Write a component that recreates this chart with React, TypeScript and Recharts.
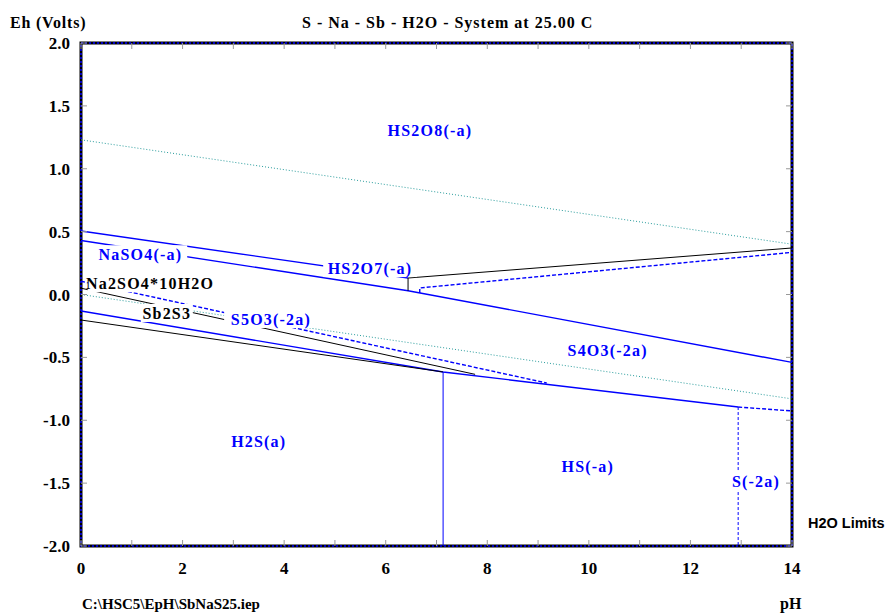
import { LineChart, Line, XAxis, YAxis, ReferenceArea, ReferenceDot } from 'recharts';

// Eh-pH diagram, S - Na - Sb - H2O at 25 C
const phTicks = [0, 1, 2, 3, 4, 5, 6, 7, 8, 9, 10, 11, 12, 13, 14];
const ehTicks = [-2, -1.5, -1, -0.5, 0, 0.5, 1, 1.5, 2];

// boundaries: pH points and Eh points
const waterUpperPh = [0, 14];
const waterUpperEh = [1.23, 0.4];
const waterLowerPh = [0, 14];
const waterLowerEh = [0, -0.83];
const hs2o8Ph = [0, 6.44];
const hs2o8Eh = [0.505, 0.131];
const naso4Ph = [0, 6.44, 14];
const naso4Eh = [0.43, 0.03, -0.54];
const hs2o7Ph = [6.44, 6.44, 14];
const hs2o7Eh = [0.03, 0.131, 0.37];
const hs2o7DashPh = [6.67, 6.67, 14];
const hs2o7DashEh = [0.012, 0.052, 0.335];
const na2so4Ph = [0, 7.76];
const na2so4Eh = [0.05, -0.635];
const s5o3Ph = [0, 9.17];
const s5o3Eh = [0.105, -0.704];
const sulfidePh = [0, 7.13, 12.94];
const sulfideEh = [-0.131, -0.616, -0.895];
const sulfideTailPh = [12.94, 14];
const sulfideTailEh = [-0.895, -0.926];
const sb2s3Ph = [0, 7.13];
const sb2s3Eh = [-0.203, -0.616];
const h2sPh = [7.13, 7.13];
const h2sEh = [-0.616, -2];
const s2Ph = [12.94, 12.94];
const s2Eh = [-0.895, -2];

const labelNames = ['HS2O8(-a)', 'NaSO4(-a)', 'HS2O7(-a)', 'Na2SO4*10H2O', 'Sb2S3', 'S5O3(-2a)', 'S4O3(-2a)', 'H2S(a)', 'HS(-a)', 'S(-2a)'];
const labelPh = [6.87, 1.17, 5.69, 1.36, 1.69, 3.74, 10.37, 3.5, 9.98, 13.29];
const labelEh = [1.31, 0.32, 0.21, 0.09, -0.147, -0.195, -0.44, -1.165, -1.364, -1.483];
const labelBlack = ['Na2SO4*10H2O', 'Sb2S3'];

const pts = (ph: number[], eh: number[]) => ph.map((x, i) => ({ x, y: eh[i] }));

const BLUE = '#0000ff';
const TEAL = '#2a9d9d';
const serif = "'Liberation Serif', 'DejaVu Serif', serif";

const LEFT = 81;
const RIGHT = 792;
const TOP = 43;
const BOTTOM = 546;

const series = [
  { id: 'w1', data: pts(waterUpperPh, waterUpperEh), color: TEAL, dash: '1 2', w: 1 },
  { id: 'w2', data: pts(waterLowerPh, waterLowerEh), color: TEAL, dash: '1 2', w: 1 },
  { id: 'a', data: pts(hs2o8Ph, hs2o8Eh), color: BLUE, dash: undefined, w: 1.4 },
  { id: 'b', data: pts(naso4Ph, naso4Eh), color: BLUE, dash: undefined, w: 1.4 },
  { id: 'c', data: pts(hs2o7Ph, hs2o7Eh), color: '#000', dash: undefined, w: 1 },
  { id: 'd', data: pts(hs2o7DashPh, hs2o7DashEh), color: BLUE, dash: '4 2', w: 1.4 },
  { id: 'e', data: pts(na2so4Ph, na2so4Eh), color: '#000', dash: undefined, w: 1 },
  { id: 'f', data: pts(s5o3Ph, s5o3Eh), color: BLUE, dash: '4 2', w: 1.4 },
  { id: 'g', data: pts(sulfidePh, sulfideEh), color: BLUE, dash: undefined, w: 1.4 },
  { id: 'h', data: pts(sulfideTailPh, sulfideTailEh), color: BLUE, dash: '4 2', w: 1.4 },
  { id: 'i', data: pts(sb2s3Ph, sb2s3Eh), color: '#000', dash: undefined, w: 1 },
  { id: 'j', data: pts(h2sPh, h2sEh), color: BLUE, dash: undefined, w: 1 },
  { id: 'k', data: pts(s2Ph, s2Eh), color: BLUE, dash: '3 2', w: 1 },
];

function PhTick(props: any) {
  const { x, payload } = props;
  const v = payload.value;
  return (
    <g>
      <line x1={x} x2={x} y1={BOTTOM} y2={BOTTOM - 6} stroke="#999" />
      <line x1={x} x2={x} y1={TOP} y2={TOP + 6} stroke="#999" />
      {v % 2 === 0 && (
        <text x={x} y={574} textAnchor="middle" style={{ fontFamily: serif }} fontWeight="bold" fontSize={17} fill="#000">
          {v}
        </text>
      )}
    </g>
  );
}

function EhTick(props: any) {
  const { y, payload } = props;
  return (
    <g>
      <line x1={LEFT} x2={LEFT + 6} y1={y} y2={y} stroke="#999" />
      <line x1={RIGHT} x2={RIGHT - 6} y1={y} y2={y} stroke="#999" />
      <text x={70} y={y + 6} textAnchor="end" style={{ fontFamily: serif }} fontWeight="bold" fontSize={17} fill="#000">
        {payload.value.toFixed(1)}
      </text>
    </g>
  );
}

function RegionLabel(props: any) {
  const { cx, cy, name } = props;
  const black = labelBlack.includes(name);
  const w = name.length * 10.4;
  return (
    <g>
      <rect x={cx - w / 2} y={cy - 9} width={w} height={18} fill="#fff" />
      <text x={cx} y={cy + 6} textAnchor="middle" style={{ fontFamily: serif }} fontWeight="bold" fontSize={16} letterSpacing={1.2} fill={black ? '#000' : BLUE}>
        {name}
      </text>
    </g>
  );
}

const textStyle = { position: 'absolute' as const, fontFamily: serif, fontWeight: 'bold', fontSize: 16, lineHeight: '18px', color: '#000', whiteSpace: 'nowrap' as const };

export default function App() {
  return (
    <div style={{ position: 'absolute', left: 0, top: 0, width: 889, height: 614, background: '#fff' }}>
      <LineChart width={889} height={614} margin={{ top: TOP, right: 889 - RIGHT, bottom: 38, left: 0 }}>
        <XAxis dataKey="x" type="number" domain={[0, 14]} ticks={phTicks} height={30} axisLine={false} tickLine={false} tick={<PhTick />} allowDataOverflow />
        <YAxis dataKey="y" type="number" domain={[-2, 2]} ticks={ehTicks} width={LEFT} axisLine={false} tickLine={false} tick={<EhTick />} allowDataOverflow />
        {series.map((s) => (
          <Line
            key={s.id}
            data={s.data}
            dataKey="y"
            type="linear"
            stroke={s.color}
            strokeWidth={s.w}
            strokeDasharray={s.dash}
            dot={false}
            activeDot={false}
            isAnimationActive={false}
          />
        ))}
        {labelNames.map((name, i) => (
          <ReferenceDot key={name} x={labelPh[i]} y={labelEh[i]} r={0} shape={(p: any) => <RegionLabel {...p} name={name} />} />
        ))}
        <ReferenceArea x1={0} x2={14} y1={-2} y2={2} fill="none" stroke="#000" strokeWidth={3} />
        <ReferenceArea x1={0} x2={14} y1={-2} y2={2} fill="none" stroke={BLUE} strokeWidth={1.5} strokeDasharray="2 2" />
      </LineChart>
      <div style={{ ...textStyle, left: 10, top: 14, letterSpacing: 0.8 }}>Eh (Volts)</div>
      <div style={{ ...textStyle, left: 302, top: 14, letterSpacing: 1 }}>S - Na - Sb - H2O - System at 25.00 C</div>
      <div style={{ ...textStyle, left: 808, top: 514, fontFamily: "'Liberation Sans', Arial, sans-serif", fontSize: 14.5 }}>H2O Limits</div>
      <div style={{ ...textStyle, left: 82, top: 595, fontSize: 15 }}>C:\HSC5\EpH\SbNaS25.iep</div>
      <div style={{ ...textStyle, left: 780, top: 595 }}>pH</div>
    </div>
  );
}
